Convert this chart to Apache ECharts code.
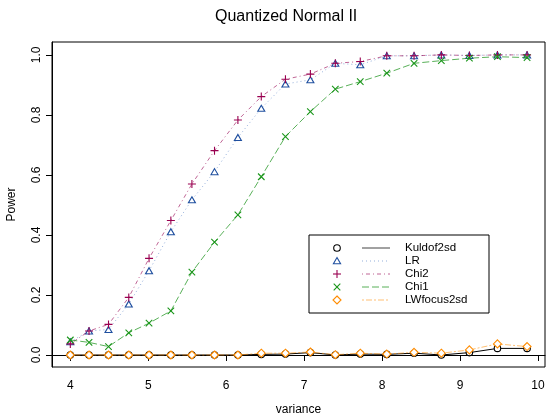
<!DOCTYPE html>
<html>
<head>
<meta charset="utf-8">
<script src="https://cdn.jsdelivr.net/npm/echarts@6/dist/echarts.min.js"></script>
<style>html,body{margin:0;padding:0;background:#fff}#c{width:546px;height:417px}</style>
</head>
<body>
<div id="c"></div>
<script>
var variance = [4.00, 4.24, 4.49, 4.75, 5.01, 5.29, 5.56, 5.85, 6.15, 6.45, 6.76, 7.08, 7.40, 7.72, 8.06, 8.41, 8.76, 9.12, 9.48, 9.86];
var kuldof2sd = [0, 0, 0, 0, 0, 0, 0, 0, 0, 0.002, 0.003, 0.008, 0, 0.003, 0.002, 0.006, 0.0, 0.008, 0.022, 0.022];
var lr = [0.044, 0.08, 0.085, 0.17, 0.281, 0.411, 0.517, 0.611, 0.725, 0.822, 0.903, 0.917, 0.972, 0.967, 0.997, 0.997, 1.0, 0.998, 1.0, 1.0];
var chi2 = [0.037, 0.08, 0.102, 0.192, 0.322, 0.448, 0.57, 0.681, 0.783, 0.861, 0.919, 0.936, 0.972, 0.978, 0.997, 0.997, 1.0, 0.998, 1.0, 1.0];
var chi1 = [0.05, 0.042, 0.028, 0.074, 0.106, 0.147, 0.276, 0.376, 0.467, 0.594, 0.728, 0.811, 0.886, 0.911, 0.939, 0.972, 0.981, 0.989, 0.994, 0.991];
var lwfocus2sd = [0, 0, 0, 0, 0, 0, 0, 0, 0, 0.006, 0.006, 0.01, 0.001, 0.006, 0.003, 0.009, 0.006, 0.017, 0.037, 0.028];
var xTicks = [4, 5, 6, 7, 8, 9, 10];
var yTicks = [0, 0.2, 0.4, 0.6, 0.8, 1.0];
var seriesNames = ['Kuldof2sd', 'LR', 'Chi2', 'Chi1', 'LWfocus2sd'];
var seriesValues = [kuldof2sd, lr, chi2, chi1, lwfocus2sd];

var FONT = '"Liberation Sans", Arial, Helvetica, sans-serif';
var markerColors = ['#000000', '#1f4f9f', '#990050', '#1a961a', '#ff8c00'];
var lineColors = ['#000000', 'rgba(60,110,190,0.55)', 'rgba(150,0,80,0.6)', 'rgba(34,150,34,0.75)', 'rgba(255,140,0,0.55)'];
var dashes = ['solid', [1, 3], [1, 3, 4, 3], [7, 3], [2, 2, 6, 2]];
var plusPath = 'path://M5,0L5,10M0,5L10,5';
var crossPath = 'path://M0,0L10,10M0,10L10,0';
var symbols = ['circle', 'triangle', plusPath, crossPath, 'diamond'];
var symSizes = [6.5, [7, 6], 8, 6.5, 8];

var series = seriesNames.map(function (name, i) {
  return {
    name: name,
    type: 'line',
    data: variance.map(function (x, j) { return [x, seriesValues[i][j]]; }),
    symbol: symbols[i],
    symbolSize: symSizes[i],
    showAllSymbol: true,
    lineStyle: { color: lineColors[i], width: 1, type: dashes[i] },
    itemStyle: { color: (i === 2 || i === 3) ? markerColors[i] : '#ffffff', borderColor: markerColors[i], borderWidth: 1.1 },
    emphasis: { disabled: true },
    z: 2 + i
  };
});

// legend drawn R-style: symbol, line sample, label
var lg = { x: 309, y: 235, w: 180, h: 78, row0: 248, dy: 13, sx: 337, lx1: 362, lx2: 390, tx: 405 };
var graphics = [{
  type: 'rect', shape: { x: lg.x, y: lg.y, width: lg.w, height: lg.h },
  style: { fill: '#fff', stroke: '#000', lineWidth: 1 }, z: 100
}];
function seg(x1, y1, x2, y2, st) {
  return { type: 'line', shape: { x1: x1, y1: y1, x2: x2, y2: y2 }, style: st, z: 101 };
}
seriesNames.forEach(function (name, i) {
  var cy = lg.row0 + i * lg.dy;
  var c = markerColors[i];
  var sx = lg.sx;
  var st = { fill: 'none', stroke: c, lineWidth: 1.1 };
  if (i === 0) graphics.push({ type: 'circle', shape: { cx: sx, cy: cy, r: 3.3 }, style: st, z: 101 });
  else if (i === 1) graphics.push({ type: 'polygon', shape: { points: [[sx, cy - 3.5], [sx + 3.6, cy + 2.8], [sx - 3.6, cy + 2.8]] }, style: st, z: 101 });
  else if (i === 2) { graphics.push(seg(sx, cy - 4, sx, cy + 4, st)); graphics.push(seg(sx - 4, cy, sx + 4, cy, st)); }
  else if (i === 3) { graphics.push(seg(sx - 3.3, cy - 3.3, sx + 3.3, cy + 3.3, st)); graphics.push(seg(sx - 3.3, cy + 3.3, sx + 3.3, cy - 3.3, st)); }
  else graphics.push({ type: 'polygon', shape: { points: [[sx, cy - 4], [sx + 4, cy], [sx, cy + 4], [sx - 4, cy]] }, style: st, z: 101 });
  var ls = { stroke: i === 0 ? '#444' : lineColors[i], lineWidth: 1 };
  if (dashes[i] !== 'solid') ls.lineDash = dashes[i];
  graphics.push(seg(lg.lx1, cy, lg.lx2, cy, ls));
  graphics.push({ type: 'text', x: lg.tx, y: cy, style: { text: name, font: '11.5px ' + FONT, fill: '#000', verticalAlign: 'middle' }, z: 101 });
});

var chart = echarts.init(document.getElementById('c'), null, { renderer: 'canvas' });
chart.setOption({
  animation: false,
  backgroundColor: '#fff',
  textStyle: { fontFamily: FONT },
  title: {
    text: 'Quantized Normal II', left: 210, top: 4,
    textStyle: { fontSize: 16, fontWeight: 'normal', color: '#000', fontFamily: FONT }
  },
  grid: { left: 52, right: 1, top: 42, bottom: 50, show: true, borderColor: '#000', borderWidth: 1, containLabel: false, outerBoundsMode: 'none' },
  xAxis: {
    type: 'value', min: 3.765, max: 10.09,
    name: 'variance', nameLocation: 'middle', nameGap: 37,
    nameTextStyle: { fontSize: 12, color: '#000', fontFamily: FONT },
    axisLine: { show: true, lineStyle: { color: '#000', width: 1 } },
    axisTick: { show: true, length: 6, customValues: xTicks, lineStyle: { color: '#000' } },
    axisLabel: { customValues: xTicks, fontSize: 12, color: '#000', margin: 13, fontFamily: FONT },
    splitLine: { show: false }
  },
  yAxis: {
    type: 'value', min: -0.04, max: 1.043,
    name: 'Power', nameLocation: 'middle', nameGap: 34, nameRotate: 90,
    nameTextStyle: { fontSize: 12, color: '#000', fontFamily: FONT },
    axisLine: { show: true, lineStyle: { color: '#000', width: 1 } },
    axisTick: { show: true, length: 6, customValues: yTicks, lineStyle: { color: '#000' } },
    axisLabel: { customValues: yTicks, rotate: 90, fontSize: 12, color: '#000', margin: 9, fontFamily: FONT,
      formatter: function (v) { return v.toFixed(1); } },
    splitLine: { show: false }
  },
  series: series,
  graphic: graphics
});
</script>
</body>
</html>
